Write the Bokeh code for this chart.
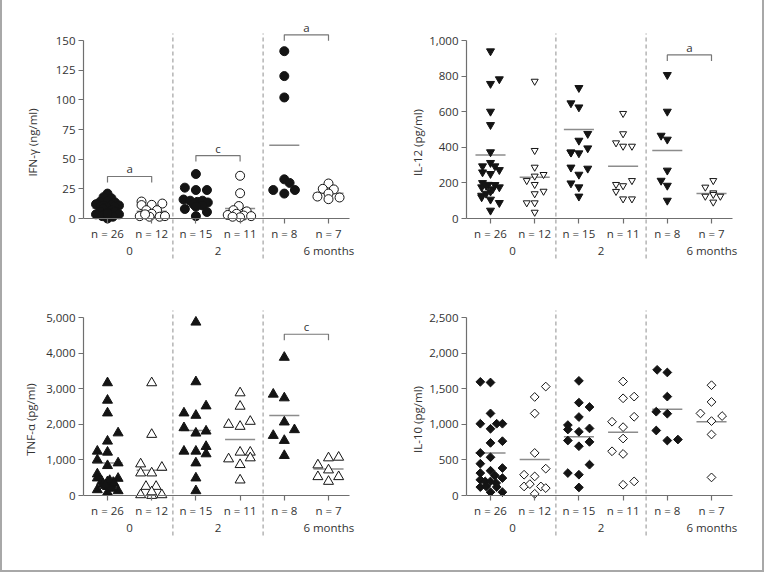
import math
from bokeh.plotting import figure
from bokeh.layouts import column, row
from bokeh.models import FixedTicker, NumeralTickFormatter, Range1d, ColumnDataSource
from bokeh.core.properties import value
from bokeh.embed import file_html
from bokeh.resources import INLINE

# ---------------------------------------------------------------- data
# Six groups per cytokine: filled (A) and open (B) symbols at 0, 2 and 6 months.
# Each group: measured values and the horizontal spread (in group units) of its symbols.
time_labels = ["0", "2", "6 months"]

# IFN-gamma (ng/ml)
ifn_A0 = [21, 18, 17, 14, 14.5, 13.5, 12, 11, 11.5, 11, 10, 9, 10, 8, 7, 6, 5, 6, 3.5, 3, 3, 3.5, 2, 1.5, 0, 4]
ifn_A0_dx = [0, -0.09, 0.09, -0.17, 0, 0.17, -0.26, -0.09, 0.09, 0.26, -0.16, 0, 0.16, -0.1, 0.1, -0.17, 0, 0.17, -0.26, -0.09, 0.09, 0.26, -0.12, 0.12, 0, 0]
ifn_B0 = [14.3, 11.3, 11.5, 12.6, 7, 7, 4, 2, 1.5, 1.5, 2, 3.5]
ifn_B0_dx = [-0.23, -0.23, 0, 0.24, -0.12, 0.12, 0, -0.27, -0.05, 0.18, 0.3, -0.15]
ifn_A2 = [37.5, 26, 24, 24, 16, 15, 14, 15, 13.5, 12, 11, 8, 10, 5.5, 2]
ifn_A2_dx = [0, -0.25, 0, 0.25, -0.28, -0.13, 0.03, 0.15, 0.27, -0.05, 0.15, -0.25, 0, 0.25, 0]
ifn_B2 = [36, 21.3, 10.5, 7, 6, 4, 3, 2.5, 2, 1, 1.5]
ifn_B2_dx = [0, 0, -0.03, -0.15, 0.15, -0.08, -0.28, 0.08, 0.25, 0, -0.17]
ifn_A6 = [141, 120, 102, 33, 30, 24, 24, 21]
ifn_A6_dx = [0, 0, 0, 0, 0.12, -0.25, 0.24, 0]
ifn_B6 = [29.5, 25, 24.5, 21, 18.5, 16.3, 17.7]
ifn_B6_dx = [0, -0.13, 0.12, 0, -0.25, 0, 0.25]
ifn_means = [8.7, 6.2, 15, 8.4, 61.8, 21.3]
ifn_ticks = [0, 25, 50, 75, 100, 125, 150]
ifn_sig = [(1, 2, 35.4, "a"), (3, 4, 53, "c"), (5, 6, 154.8, "a")]

# IL-12 (pg/ml)
il12_A0 = [940, 783, 757, 601, 526, 373, 313, 294, 294, 273, 260, 251, 200, 190, 189, 176, 176, 152, 129, 120, 107, 88, 45, 185, 165, 140]
il12_A0_dx = [0, 0.2, 0, 0, 0, 0, 0, -0.18, 0.1, 0.2, -0.18, 0, -0.18, -0.05, 0.1, 0.2, -0.2, 0, -0.2, -0.2, 0, 0.2, 0, -0.1, 0.05, -0.1]
il12_B0 = [771, 382, 288, 213, 238, 247, 191, 153, 139, 88, 88, 35]
il12_B0_dx = [0, 0, 0, -0.18, 0, 0.2, 0, 0.2, 0, -0.18, 0, 0]
il12_A2 = [734, 648, 625, 476, 438, 395, 371, 367, 287, 281, 247, 198, 176, 124, 372]
il12_A2_dx = [0, -0.18, 0, 0.2, 0, 0.2, -0.18, 0, -0.18, 0.2, 0, -0.18, 0, 0, -0.18]
il12_B2 = [590, 476, 425, 406, 406, 191, 184, 213, 152, 110, 110]
il12_B2_dx = [0, 0, -0.16, 0, 0.2, -0.16, 0, 0.2, -0.16, 0, 0.2]
il12_A6 = [807, 601, 466, 444, 270, 213, 185, 101]
il12_A6_dx = [0, 0, -0.14, 0, 0, -0.14, 0, 0]
il12_B6 = [213, 176, 144, 125, 125, 92, 135]
il12_B6_dx = [0.04, -0.14, 0.04, -0.14, 0.2, 0.04, 0.04]
il12_means = [357, 232, 500, 294, 382, 140]
il12_ticks = [0, 200, 400, 600, 800, 1000]
il12_sig = [(5, 6, 919, "a")]

# TNF-alpha (pg/ml)
tnf_A0 = [3164, 2674, 2316, 1525, 1756, 1243, 1215, 998, 838, 913, 603, 490, 395, 386, 367, 480, 160, 85, 132, 320, 300, 250, 420, 280, 200, 340]
tnf_A0_dx = [0, 0, 0, 0, 0.24, -0.23, 0, -0.23, 0, 0.24, -0.23, -0.23, -0.13, 0, 0.13, 0.24, -0.23, 0, 0.24, -0.1, 0.08, 0, 0.05, -0.05, 0.1, 0.15]
tnf_B0 = [3164, 1714, 885, 791, 631, 631, 254, 254, 19, 0, 19, 100]
tnf_B0_dx = [0, 0, -0.25, 0.23, -0.25, 0, -0.13, 0.1, -0.25, 0, 0.23, 0]
tnf_A2 = [4868, 3192, 2514, 2316, 2250, 1902, 1751, 1808, 1243, 1243, 1375, 1168, 913, 490, 132]
tnf_A2_dx = [0, 0, 0.23, -0.27, 0, -0.27, 0, 0.23, -0.27, 0, 0.23, 0.23, 0, 0, 0]
tnf_B2 = [2881, 2505, 1996, 1940, 2081, 1026, 1215, 1215, 866, 1055, 433]
tnf_B2_dx = [0, 0, -0.26, 0, 0.23, -0.26, 0, 0.23, 0, 0.23, 0]
tnf_A6 = [3879, 2844, 2740, 2062, 1846, 1685, 1544, 1121]
tnf_A6_dx = [0, -0.25, 0, 0, 0.23, -0.25, 0, 0]
tnf_B6 = [857, 1055, 1073, 716, 527, 395, 527]
tnf_B6_dx = [-0.24, 0, 0.23, 0, -0.24, 0, 0.23]
tnf_means = [913, 710, 1827, 1572, 2250, 744]
tnf_ticks = [0, 1000, 2000, 3000, 4000, 5000]
tnf_sig = [(5, 6, 4529, "c")]

# IL-10 (pg/ml)
il10_A0 = [1596, 1587, 1153, 1008, 1008, 1008, 937, 739, 763, 598, 537, 447, 386, 315, 348, 221, 198, 198, 174, 245, 118, 47, 47, 118, 127, 280]
il10_A0_dx = [-0.23, 0, 0, -0.23, 0.14, 0.27, 0, 0, 0.27, -0.23, 0, -0.23, 0.27, -0.23, 0, -0.23, -0.12, 0, 0.13, 0.27, -0.23, 0, 0.27, 0.14, -0.1, 0.1]
il10_B0 = [1530, 1384, 1153, 598, 377, 292, 268, 127, 160, 127, 104, 24]
il10_B0_dx = [0.25, 0, 0, 0, 0.25, -0.24, 0, -0.24, -0.11, 0.14, 0.25, 0]
il10_A2 = [1610, 1304, 1243, 1102, 989, 927, 942, 895, 772, 753, 692, 433, 315, 292, 113]
il10_A2_dx = [0, 0, 0.24, 0, -0.25, -0.25, 0.24, 0, -0.25, 0.24, 0, 0.24, -0.25, 0, 0]
il10_B2 = [1601, 1365, 1389, 1106, 1036, 960, 800, 621, 584, 151, 198]
il10_B2_dx = [0, 0, 0.25, 0.25, -0.25, 0, 0, -0.25, 0, 0, 0.25]
il10_A6 = [1765, 1728, 1389, 1177, 1149, 913, 772, 786]
il10_A6_dx = [-0.23, 0, 0, -0.25, 0, -0.25, 0, 0.24]
il10_B6 = [1549, 1314, 1153, 1116, 1045, 857, 254]
il10_B6_dx = [0, 0, -0.25, 0.24, 0, 0, 0]
il10_means = [598, 504, 824, 890, 1210, 1036]
il10_ticks = [0, 500, 1000, 1500, 2000, 2500]
il10_sig = []

# ---------------------------------------------------------------- styling
FONT = "Open Sans"
FS = "11.5px"
TEXT = "#333333"
AXIS = "#6f6f6f"
MEAN = "#8c8c8c"
DASH = "#8f8f8f"
INK = "#141414"

PX_PER_GROUP = 44.2
FRAME_W, FRAME_H = 272, 244
SCALE_PX = 178.0          # pixels between 0 and the top tick


def panel(label, groups, offsets, means, ticks, sig, marker, sizes, left, right,
          bottom, label_standoff, angle=0.0):
    top = ticks[-1]
    upp = top / SCALE_PX   # data units per pixel
    x0 = 1 - 24 / PX_PER_GROUP
    x1 = x0 + FRAME_W / PX_PER_GROUP
    p = figure(frame_width=FRAME_W, frame_height=FRAME_H,
               x_range=Range1d(x0, x1),
               y_range=Range1d(-46 * upp, top + 20 * upp),
               output_backend="svg", toolbar_location=None,
               min_border_left=left, min_border_right=right,
               min_border_top=20, min_border_bottom=bottom)
    p.xgrid.visible = False
    p.ygrid.visible = False
    p.outline_line_color = None
    p.background_fill_color = "white"
    p.border_fill_color = "white"

    # y axis
    ya = p.yaxis[0]
    ya.ticker = FixedTicker(ticks=ticks)
    ya.formatter = NumeralTickFormatter(format="0,0")
    ya.bounds = (0, top)
    ya.axis_label = label
    ya.axis_label_text_font = FONT
    ya.axis_label_text_font_size = FS
    ya.axis_label_text_font_style = "normal"
    ya.axis_label_text_color = TEXT
    ya.axis_label_standoff = label_standoff
    ya.major_label_text_font = FONT
    ya.major_label_text_font_size = FS
    ya.major_label_text_color = TEXT
    ya.major_label_standoff = 3
    ya.major_tick_out = 5
    ya.major_tick_in = 0
    ya.minor_tick_out = 0
    ya.minor_tick_in = 0
    ya.axis_line_color = AXIS
    ya.major_tick_line_color = AXIS
    ya.axis_line_width = 1.2
    ya.major_tick_line_width = 1.2

    # x axis drawn at y = 0 with the group sizes as tick labels
    xa = p.xaxis[0]
    xa.fixed_location = 0
    xa.ticker = FixedTicker(ticks=[1, 2, 3, 4, 5, 6])
    xa.major_label_overrides = {i + 1: f"n = {len(g)}" for i, g in enumerate(groups)}
    xa.bounds = (x0, 6.48)
    xa.major_label_text_font = FONT
    xa.major_label_text_font_size = FS
    xa.major_label_text_color = TEXT
    xa.major_label_standoff = 2
    xa.major_tick_out = 5
    xa.major_tick_in = 0
    xa.minor_tick_out = 0
    xa.minor_tick_in = 0
    xa.axis_line_color = AXIS
    xa.major_tick_line_color = AXIS
    xa.axis_line_width = 1.2
    xa.major_tick_line_width = 1.2

    # dashed separators between time points
    p.segment(x0=[2.48, 4.52], x1=[2.48, 4.52], y0=-40 * upp, y1=top + 7 * upp,
              line_color=DASH, line_width=1, line_dash="4 3")

    # group means
    gx = [i + 1 for i in range(6)]
    p.segment(x0=[g - 0.34 for g in gx], x1=[g + 0.34 for g in gx],
              y0=means, y1=means, line_color=MEAN, line_width=1.5)

    # individual values
    for i, (vals, dx) in enumerate(zip(groups, offsets)):
        filled = i % 2 == 0
        src = ColumnDataSource(dict(x=[i + 1 + d for d in dx], y=vals))
        p.scatter("x", "y", source=src, marker=marker, angle=angle,
                  size=sizes[0] if filled else sizes[1],
                  fill_color=INK if filled else "white",
                  line_color=INK, line_width=1)

    # significance brackets
    drop = 6 * upp
    for a, b, yb, txt in sig:
        p.line([a, a, b, b], [yb - drop, yb, yb, yb - drop],
               line_color="#777777", line_width=1.2)
        p.text(x=[(a + b) / 2], y=[yb], text=[txt], text_align="center",
               text_baseline="bottom", y_offset=0,
               text_font=value(FONT), text_font_size=FS, text_color=TEXT)

    # time point labels
    p.text(x=[1.5, 3.5], y=[0, 0], text=time_labels[:2], text_align="center",
           text_baseline="middle", y_offset=32,
           text_font=value(FONT), text_font_size=FS, text_color=TEXT)
    p.text(x=[5.5], y=[0], text=[time_labels[2]], text_align="left",
           text_baseline="middle", y_offset=32, x_offset=-3,
           text_font=value(FONT), text_font_size=FS, text_color=TEXT)
    return p


p1 = panel("IFN-\u03b3 (ng/ml)",
           [ifn_A0, ifn_B0, ifn_A2, ifn_B2, ifn_A6, ifn_B6],
           [ifn_A0_dx, ifn_B0_dx, ifn_A2_dx, ifn_B2_dx, ifn_A6_dx, ifn_B6_dx],
           ifn_means, ifn_ticks, ifn_sig, "circle", (9, 9),
           left=81, right=27, bottom=13, label_standoff=13)
p2 = panel("IL-12 (pg/ml)",
           [il12_A0, il12_B0, il12_A2, il12_B2, il12_A6, il12_B6],
           [il12_A0_dx, il12_B0_dx, il12_A2_dx, il12_B2_dx, il12_A6_dx, il12_B6_dx],
           il12_means, il12_ticks, il12_sig, "inverted_triangle", (8, 7),
           left=84, right=24, bottom=13, label_standoff=1)
p3 = panel("TNF-\u03b1 (pg/ml)",
           [tnf_A0, tnf_B0, tnf_A2, tnf_B2, tnf_A6, tnf_B6],
           [tnf_A0_dx, tnf_B0_dx, tnf_A2_dx, tnf_B2_dx, tnf_A6_dx, tnf_B6_dx],
           tnf_means, tnf_ticks, tnf_sig, "triangle", (10, 10),
           left=81, right=27, bottom=29, label_standoff=5)
p4 = panel("IL-10 (pg/ml)",
           [il10_A0, il10_B0, il10_A2, il10_B2, il10_A6, il10_B6],
           [il10_A0_dx, il10_B0_dx, il10_A2_dx, il10_B2_dx, il10_A6_dx, il10_B6_dx],
           il10_means, il10_ticks, il10_sig, "square", (6.2, 6.2),
           left=84, right=24, bottom=29, label_standoff=1, angle=math.pi / 4)

layout = column(row(p1, p2), row(p3, p4),
                styles={"border-left": "2px solid #a8a8a8",
                        "border-right": "2px solid #a8a8a8",
                        "border-bottom": "2px solid #a8a8a8",
                        "background-color": "white"})

open("out.html", "w").write(file_html(layout, INLINE))
